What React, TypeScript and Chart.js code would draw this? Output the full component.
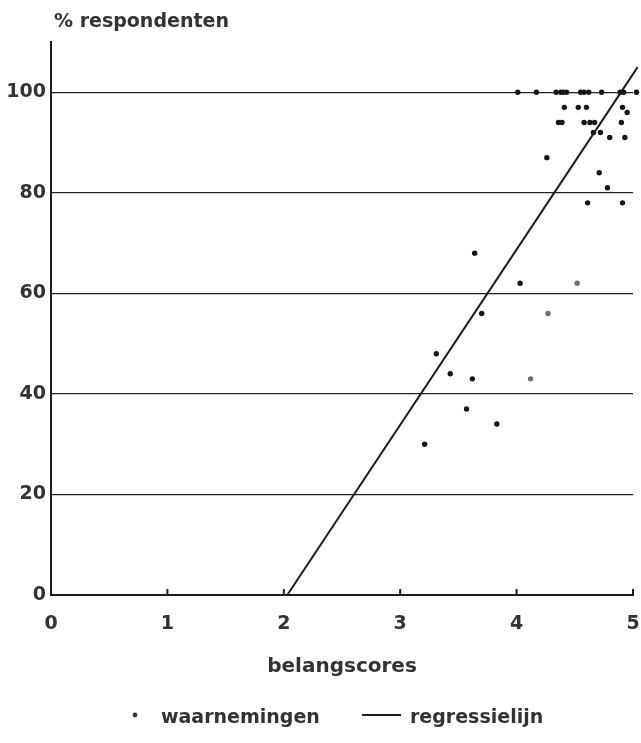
import React, { useEffect, useRef } from 'react';
import { Chart, registerables } from 'chart.js';

Chart.register(...registerables);

// ---- data ----
const xTickValues = [0, 1, 2, 3, 4, 5];
const yTickValues = [0, 20, 40, 60, 80, 100];

const obsX = [
  4.01, 4.17, 4.34, 4.38, 4.40, 4.43, 4.55, 4.58, 4.62, 4.73, 4.89, 4.92, 5.03,
  4.41, 4.53, 4.60, 4.91, 4.95,
  4.36, 4.39, 4.58, 4.63, 4.67, 4.90,
  4.66, 4.72,
  4.80, 4.93,
  4.26, 4.71, 4.78, 4.61, 4.91,
  3.64, 4.03, 3.70, 3.31, 3.43, 3.62, 3.57, 3.83, 3.21,
];
const obsY = [
  100, 100, 100, 100, 100, 100, 100, 100, 100, 100, 100, 100, 100,
  97, 97, 97, 97, 96,
  94, 94, 94, 94, 94, 94,
  92, 92,
  91, 91,
  87, 84, 81, 78, 78,
  68, 62, 56, 48, 44, 43, 37, 34, 30,
];
const faintX = [4.52, 4.27, 4.12];
const faintY = [62, 56, 43];

const regX = [2.03, 5.04];
const regY = [0, 105];

const yTitle = '% respondenten';
const xTitle = 'belangscores';
const obsLabel = 'waarnemingen';
const regLabel = 'regressielijn';

const textColor = '#333333';
const lineColor = '#1c1c1c';
const fontFamily = '"DejaVu Sans", sans-serif';

const decoPlugin = {
  id: 'deco',
  afterDraw(chart: any) {
    const { ctx } = chart;
    const x = chart.scales.x;
    const y = chart.scales.y;
    ctx.save();
    // inward tick marks on x-axis
    ctx.strokeStyle = lineColor;
    ctx.lineWidth = 2;
    for (const v of xTickValues.slice(1)) {
      const px = x.getPixelForValue(v);
      ctx.beginPath();
      ctx.moveTo(px, y.bottom);
      ctx.lineTo(px, y.bottom - 6);
      ctx.stroke();
    }
    // y-axis title (horizontal, top-left)
    ctx.fillStyle = textColor;
    ctx.font = `bold 19px ${fontFamily}`;
    ctx.textAlign = 'left';
    ctx.textBaseline = 'middle';
    ctx.fillText(yTitle, x.left + 3, 22);

    // legend
    const ly = chart.height - 25;
    ctx.beginPath();
    ctx.arc(135, ly - 3, 2.4, 0, Math.PI * 2);
    ctx.fill();
    ctx.fillText(chart.data.datasets[0].label, 161, ly);
    ctx.beginPath();
    ctx.lineWidth = 2;
    ctx.moveTo(362, ly - 3);
    ctx.lineTo(401, ly - 3);
    ctx.stroke();
    ctx.fillText(chart.data.datasets[2].label, 410, ly);
    ctx.restore();
  },
};

export default function App() {
  const canvasRef = useRef<HTMLCanvasElement | null>(null);

  useEffect(() => {
    if (!canvasRef.current) return;
    const chart = new Chart(canvasRef.current, {
      type: 'scatter',
      data: {
        datasets: [
          {
            label: obsLabel,
            data: obsX.map((v, i) => ({ x: v, y: obsY[i] })),
            backgroundColor: '#151515',
            borderColor: '#151515',
            pointRadius: 2.7,
            pointBorderWidth: 0,
            clip: false as any,
          },
          {
            label: '',
            data: faintX.map((v, i) => ({ x: v, y: faintY[i] })),
            backgroundColor: '#6f6f6f',
            borderColor: '#6f6f6f',
            pointRadius: 2.7,
            pointBorderWidth: 0,
            clip: false as any,
          },
          {
            label: regLabel,
            data: regX.map((v, i) => ({ x: v, y: regY[i] })),
            showLine: true,
            borderColor: lineColor,
            borderWidth: 2,
            pointRadius: 0,
            clip: false as any,
          },
        ],
      },
      options: {
        animation: false,
        responsive: false,
        maintainAspectRatio: false,
        layout: { padding: { top: 42, left: 0, right: 8, bottom: 64 } },
        plugins: {
          legend: { display: false },
          tooltip: { enabled: false },
          title: { display: false },
        },
        scales: {
          x: {
            type: 'linear',
            min: 0,
            max: 5,
            afterBuildTicks: (s: any) => {
              s.ticks = xTickValues.map((v) => ({ value: v }));
            },
            afterFit: (s: any) => {
              s.height = 84;
              s.paddingLeft = 0;
              s.paddingRight = 0;
            },
            grid: { display: false, drawTicks: false },
            border: { display: true, color: lineColor, width: 2 },
            ticks: {
              padding: 18,
              color: textColor,
              font: { family: fontFamily, size: 19, weight: 'bold' },
            },
            title: {
              display: true,
              text: xTitle,
              color: textColor,
              font: { family: fontFamily, size: 20, weight: 'bold' },
              padding: { top: 18, bottom: 0 },
            },
          },
          y: {
            type: 'linear',
            min: 0,
            max: 110,
            afterBuildTicks: (s: any) => {
              s.ticks = yTickValues.map((v) => ({ value: v }));
            },
            afterFit: (s: any) => {
              s.width = 51;
              s.paddingTop = 0;
              s.paddingBottom = 0;
            },
            grid: { color: '#222222', lineWidth: 1.3, drawTicks: false },
            border: { display: true, color: lineColor, width: 2 },
            ticks: {
              padding: 5,
              color: textColor,
              font: { family: fontFamily, size: 19, weight: 'bold' },
            },
          },
        },
      },
      plugins: [decoPlugin],
    });
    return () => chart.destroy();
  }, []);

  return (
    <div style={{ position: 'absolute', left: 0, top: 0, width: 641, height: 743, background: '#fff' }}>
      <canvas ref={canvasRef} width={641} height={743} style={{ width: 641, height: 743, display: 'block' }} />
    </div>
  );
}
